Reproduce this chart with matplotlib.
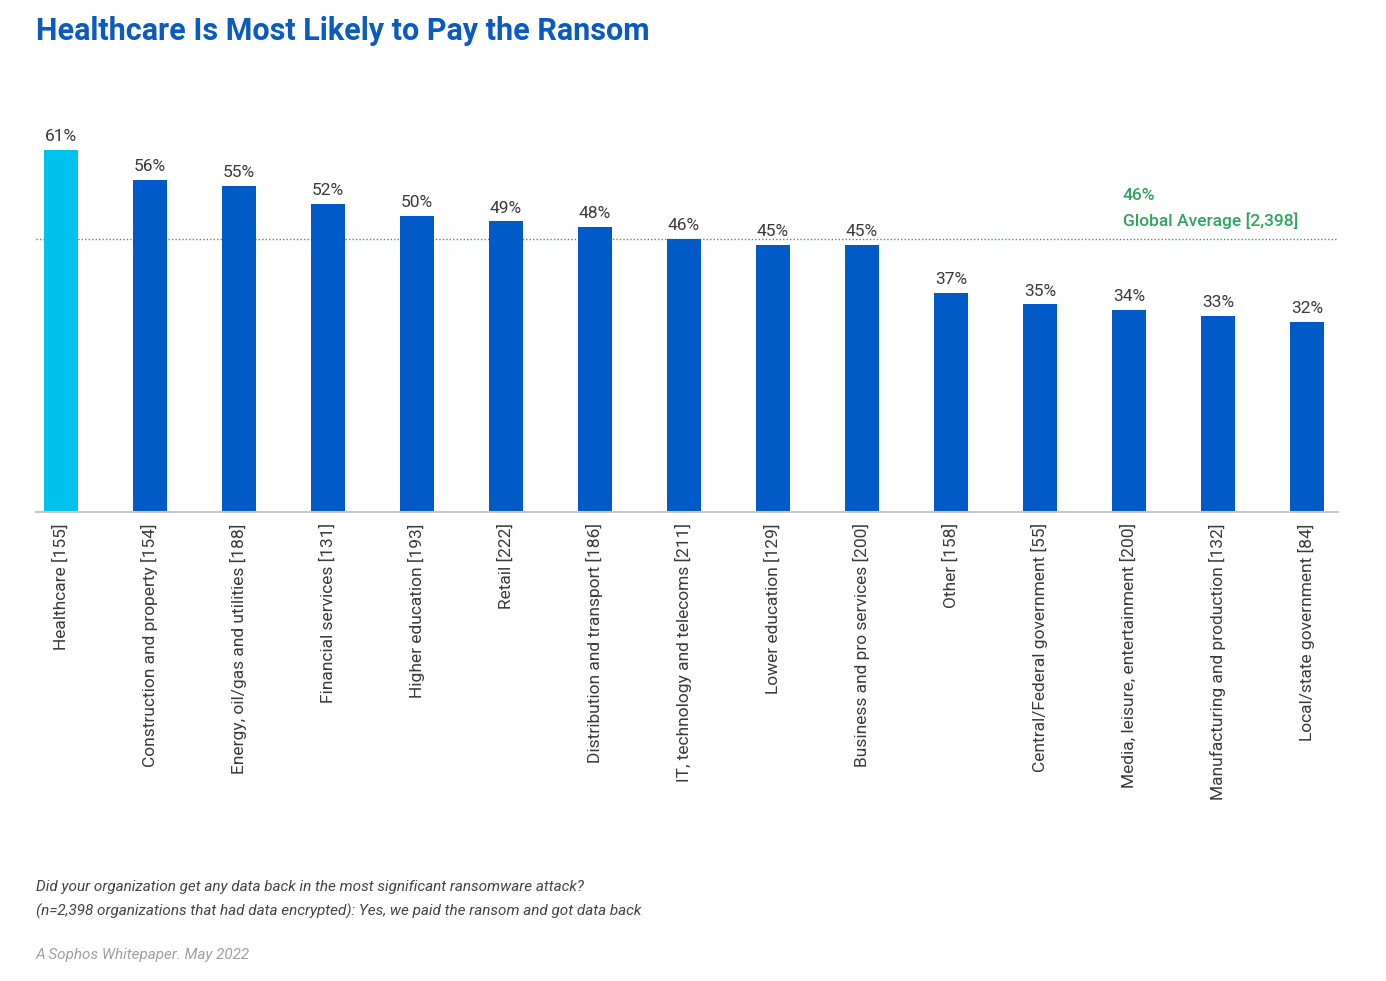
import matplotlib
matplotlib.use("Agg")
import matplotlib.pyplot as plt

categories = ["Healthcare [155]", "Construction and property [154]", "Energy, oil/gas and utilities [188]",
              "Financial services [131]", "Higher education [193]", "Retail [222]",
              "Distribution and transport [186]", "IT, technology and telecoms [211]",
              "Lower education [129]", "Business and pro services [200]", "Other [158]",
              "Central/Federal government [55]", "Media, leisure, entertainment [200]",
              "Manufacturing and production [132]", "Local/state government [84]"]
values = [61, 56, 55, 52, 50, 49, 48, 46, 45, 45, 37, 35, 34, 33, 32]
global_avg = 46
avg_label = "Global Average [2,398]"

plt.rcParams['font.family'] = ['Roboto', 'DejaVu Sans']

fig = plt.figure(figsize=(13.86, 9.81), dpi=100)
ax = fig.add_axes([0.026, 0.478, 0.9394, 0.393])

colors = ["#00C2EC"] + ["#005BC8"] * (len(values) - 1)
x = list(range(len(values)))
bars = ax.bar(x, values, width=0.38, color=colors, zorder=2)
for xi, v in zip(x, values):
    ax.text(xi, v + 1.0, f"{v}%", ha="center", va="bottom", fontsize=12.5,
            color="#3A3A3A")

ax.axhline(global_avg, color="#2EA55A", linestyle=(0, (1, 1.5)), linewidth=1.0, zorder=1)
ax.text(11.93, global_avg + 7.3, f"{global_avg}%", color="#2EA55A", fontsize=12.5,
        fontweight="medium", ha="left", va="center")
ax.text(11.93, global_avg + 3.1, avg_label, color="#2EA55A", fontsize=12.5,
        fontweight="medium", ha="left", va="center")

ax.set_xlim(-0.28, 14.35)
ax.set_ylim(0, 65)
ax.set_xticks(x)
ax.set_xticklabels(categories, rotation=90, fontsize=12.5, color="#3A3A3A")
ax.tick_params(axis="x", length=0, pad=8)
ax.set_yticks([])
for s in ["top", "right", "left"]:
    ax.spines[s].set_visible(False)
ax.spines["bottom"].set_color("#C8C8C8")
ax.spines["bottom"].set_linewidth(1.5)

fig.text(0.026, 0.968, "Healthcare Is Most Likely to Pay the Ransom", fontsize=22,
         fontweight="bold", color="#0A5BC0", ha="left", va="center")
fig.text(0.026, 0.096, "Did your organization get any data back in the most significant ransomware attack?",
         fontsize=11, style="italic", color="#444444", ha="left", va="center")
fig.text(0.026, 0.071, "(n=2,398 organizations that had data encrypted): Yes, we paid the ransom and got data back",
         fontsize=11, style="italic", color="#444444", ha="left", va="center")
fig.text(0.026, 0.027, "A Sophos Whitepaper. May 2022", fontsize=11, style="italic",
         color="#A0A0A0", ha="left", va="center")

fig.savefig("out.png", dpi=100)
